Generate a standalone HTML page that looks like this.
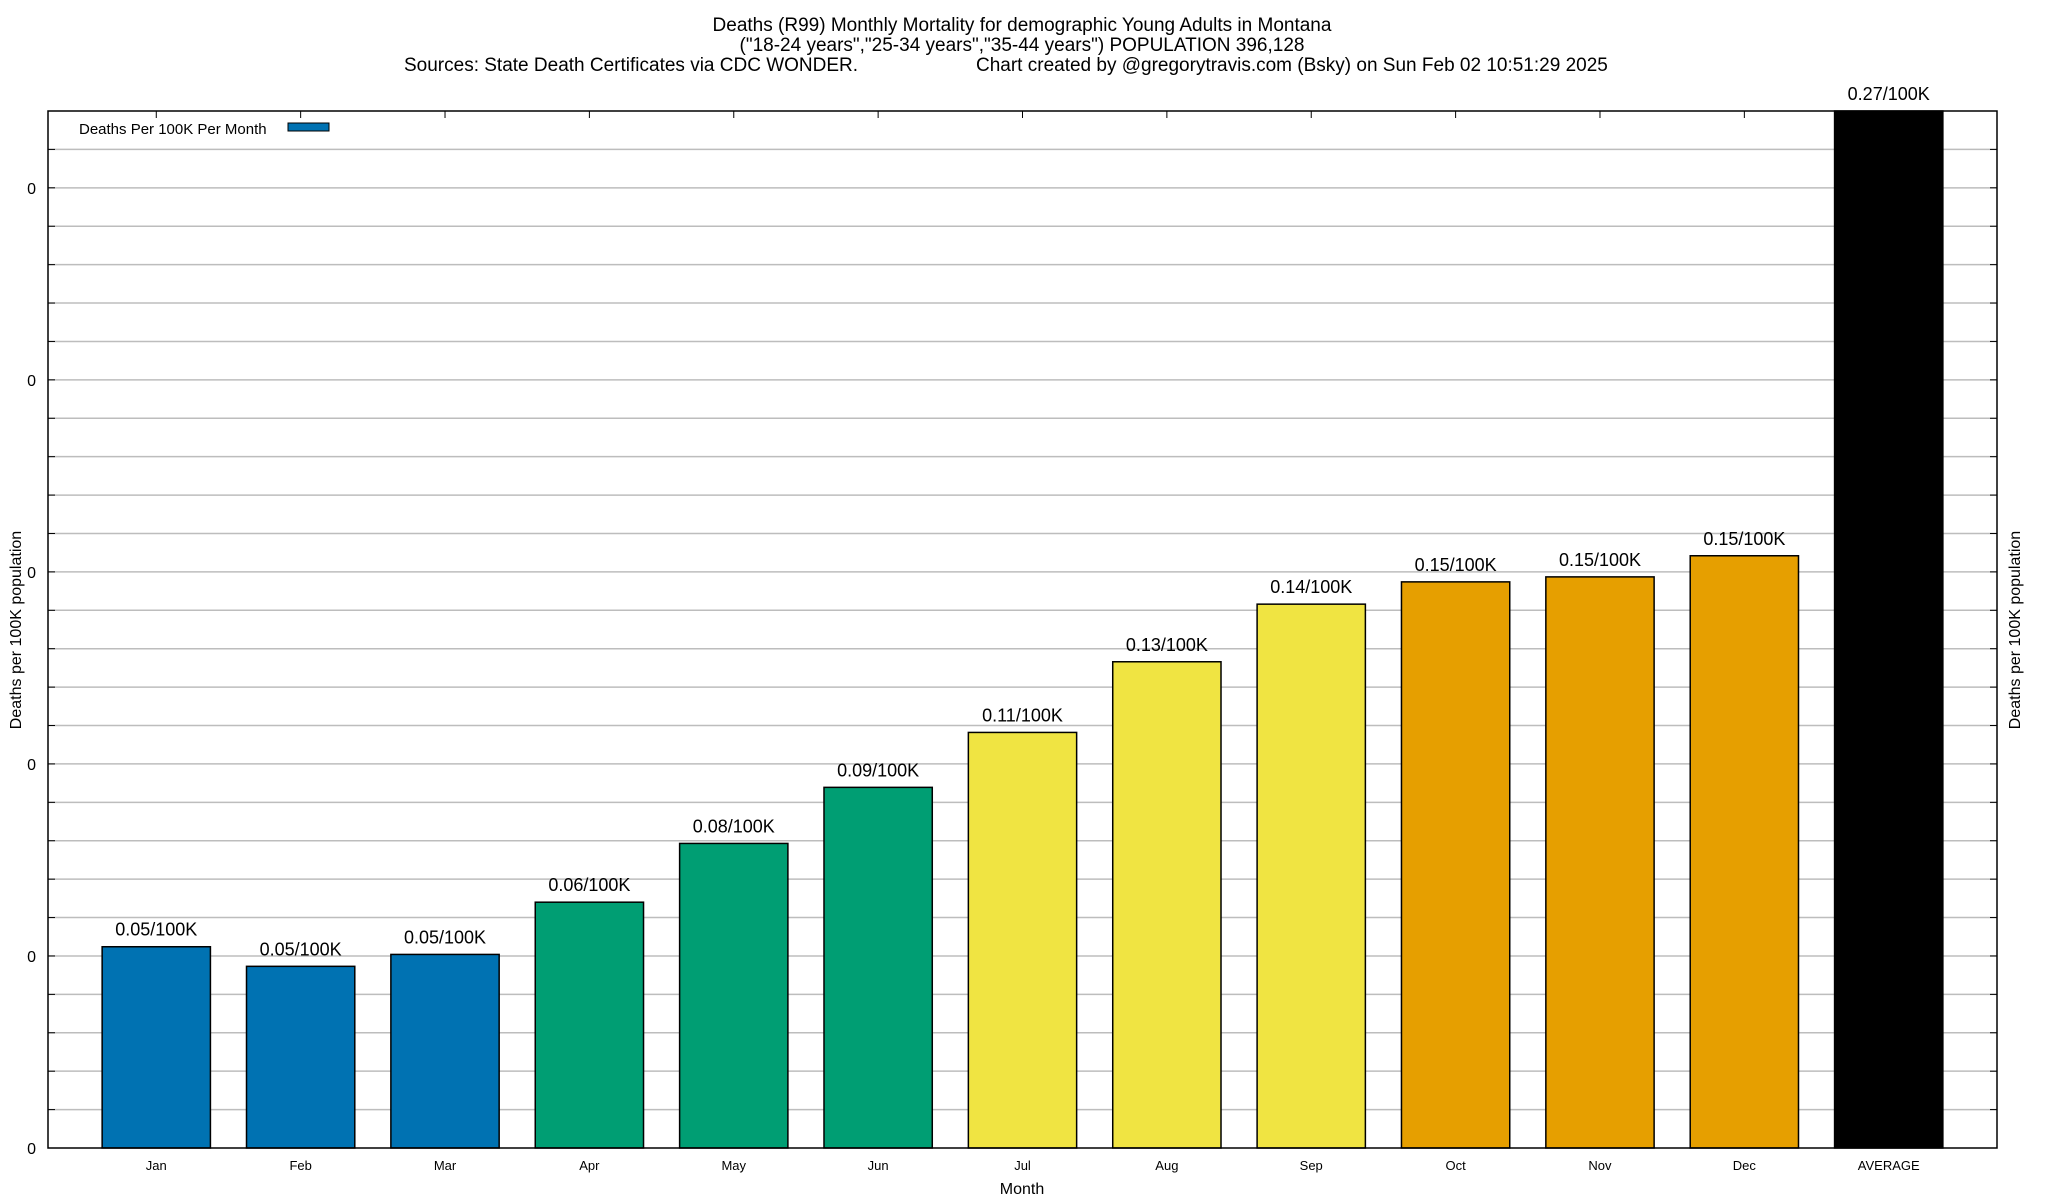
<!DOCTYPE html>
<html><head><meta charset="utf-8"><style>
html,body{margin:0;padding:0;background:#fff;}
svg{display:block;font-family:"Liberation Sans",Arial,sans-serif;}
</style></head><body>
<svg id="chart" width="2048" height="1200" viewBox="0 0 2048 1200" xmlns="http://www.w3.org/2000/svg">
<g font-size="19" text-anchor="middle" fill="#000">
<text x="1022" y="31">Deaths (R99) Monthly Mortality for demographic Young Adults in Montana</text>
<text x="1022" y="51">("18-24 years","25-34 years","35-44 years") POPULATION 396,128</text>
<text x="404" y="71" text-anchor="start">Sources: State Death Certificates via CDC WONDER.</text>
<text x="976" y="71" text-anchor="start">Chart created by @gregorytravis.com (Bsky) on Sun Feb 02 10:51:29 2025</text>
</g>
<g id="grid"></g>
<g id="bars"></g>
<g id="axes"></g>
<g>
<text x="79" y="134" font-size="15">Deaths Per 100K Per Month</text>
<rect x="288" y="123" width="41" height="8" fill="#0072b2" stroke="#000" stroke-width="1"/>
</g>
<text transform="translate(21,630) rotate(-90)" font-size="16" text-anchor="middle">Deaths per 100K population</text>
<text transform="translate(2020,630) rotate(-90)" font-size="16" text-anchor="middle">Deaths per 100K population</text>
<text x="1022" y="1194" font-size="16" text-anchor="middle">Month</text>
</svg>
<script>
const categories = ["Jan","Feb","Mar","Apr","May","Jun","Jul","Aug","Sep","Oct","Nov","Dec","AVERAGE"];
const values = [0.0524,0.0473,0.0504,0.064,0.0793,0.0939,0.1082,0.1266,0.1416,0.1474,0.1487,0.1542,0.27];
const colors = ["#0072b2","#0072b2","#0072b2","#009e73","#009e73","#009e73","#f0e442","#f0e442","#f0e442","#e69f00","#e69f00","#e69f00","#000000"];
const majorTicks = [0,0.05,0.1,0.15,0.2,0.25];
const majorTickLabels = ["0","0","0","0","0","0"];
const yMax = 0.27;
const minorStep = 0.01;

const NS = "http://www.w3.org/2000/svg";
const L = 48, R = 1997, T = 111, B = 1148;
const step = (R - L) / (categories.length + 0.5);
const xScale = i => L + (i + 0.75) * step;
const yScale = v => B - (v / yMax) * (B - T);
function mk(tag, attrs, parent){ const e = document.createElementNS(NS, tag); for (const k in attrs) e.setAttribute(k, attrs[k]); parent.appendChild(e); return e; }
const grid = document.getElementById('grid'), bars = document.getElementById('bars'), axes = document.getElementById('axes');

for (let k = 1; k * minorStep < yMax; k++) {
  const y = yScale(k * minorStep);
  const gl = mk('line', {x1:L, x2:R, y1:y, y2:y, stroke:'#bdbdbd', 'stroke-width':1.5}, grid);
  
  
  const t1 = mk('line', {x1:L, x2:L+7, y1:y, y2:y, stroke:'#000', 'stroke-width':1}, axes);
  
  
  const t2 = mk('line', {x1:R-7, x2:R, y1:y, y2:y, stroke:'#000', 'stroke-width':1}, axes);
  
  
}
majorTicks.forEach((v, i) => {
  const t = mk('text', {x:36, y:yScale(v)+6, 'font-size':16, 'text-anchor':'end'}, axes);
  t.textContent = majorTickLabels[i];
  
  
});

const bw = step * 0.75;
categories.forEach((c, i) => {
  const cx = xScale(i);
  const y = Math.max(yScale(values[i]), T);
  const r = mk('rect', {x:cx-bw/2, y:y, width:bw, height:B-y, fill:colors[i], stroke:'#000', 'stroke-width':1.5}, bars);
  
  
  const lbl = mk('text', {x:cx, y:y-11, 'font-size':18, 'text-anchor':'middle'}, bars);
  lbl.textContent = values[i].toFixed(2) + '/100K';
  
  
  const xl = mk('text', {x:cx, y:1170, 'font-size':13, 'text-anchor':'middle'}, axes);
  xl.textContent = c;
  
  
  const tt = mk('line', {x1:cx, x2:cx, y1:T, y2:T+7, stroke:'#000', 'stroke-width':1}, axes);
  
  
});

const frame = mk('rect', {x:L, y:T, width:R-L, height:B-T, fill:'none', stroke:'#000', 'stroke-width':1.5}, axes);


</script>
</body></html>
